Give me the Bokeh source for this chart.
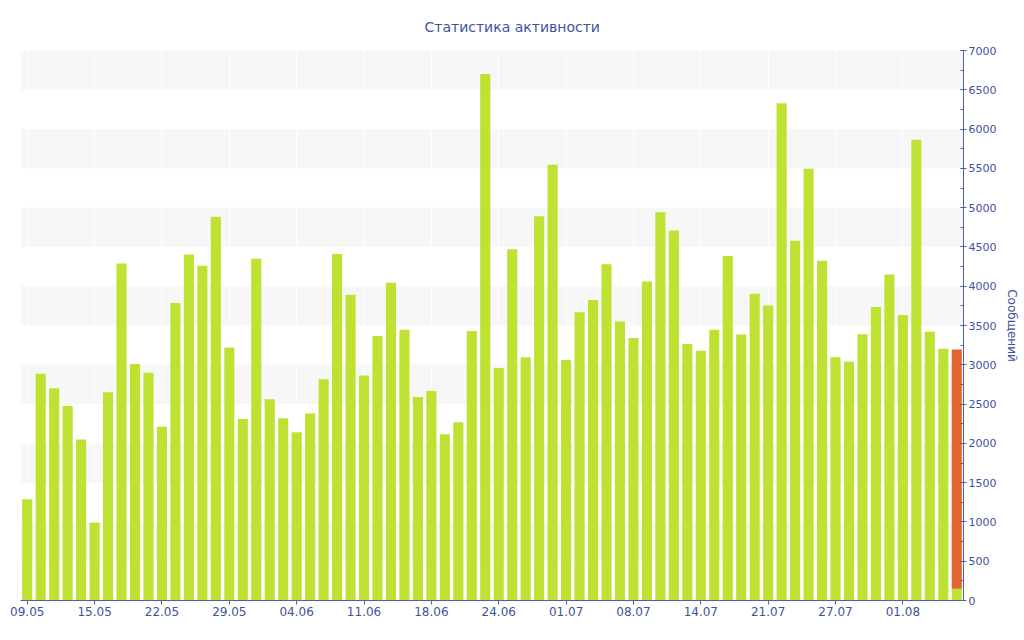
from bokeh.plotting import figure
from bokeh.models import Range1d, FixedTicker
from bokeh.embed import file_html
from bokeh.resources import INLINE

# --- data ---
tick_labels = ["09.05", "15.05", "22.05", "29.05", "04.06", "11.06", "18.06",
               "24.06", "01.07", "08.07", "14.07", "21.07", "27.07", "01.08"]
messages = [1290, 2885, 2700, 2475, 2050, 990, 2650, 4290, 3010, 2900,
            2210, 3785, 4405, 4260, 4885, 3220, 2310, 4350, 2560, 2320,
            2140, 2380, 2815, 4410, 3890, 2865, 3365, 4045, 3445, 2590,
            2665, 2115, 2270, 3430, 6700, 2960, 4470, 3095, 4890, 5545,
            3060, 3670, 3825, 4280, 3550, 3340, 4060, 4940, 4710, 3265,
            3180, 3445, 4385, 3385, 3905, 3755, 6330, 4580, 5495, 4325,
            3095, 3040, 3390, 3735, 4150, 3635, 5865, 3420, 3205, 150]
today_extra = [0] * 69 + [3045]
y_ticks = list(range(0, 7001, 500))
y_minor = list(range(0, 7001, 250))

n = len(messages)
idx = list(range(n))
label_step = 5

TEXT = "#3f51a0"
AXIS = "#4f60aa"
FONT = "DejaVu Sans"

p = figure(frame_width=943, frame_height=550,
           x_range=Range1d(-0.5, n - 0.5), y_range=Range1d(0, 7000),
           y_axis_location="right", output_backend="svg",
           toolbar_location=None, min_border_left=20, min_border_top=50,
           min_border_right=2, min_border_bottom=8,
           title="Статистика активности")
p.outline_line_color = None
p.background_fill_color = "white"
p.border_fill_color = "white"

p.title.align = "left"
p.title.text_font = FONT
p.title.text_font_size = "14px"
p.title.text_font_style = "normal"
p.title.text_color = TEXT
p.title.standoff = 31
p.title.offset = 404

src = dict(x=idx, base=messages, extra=today_extra)
p.vbar_stack(["base", "extra"], x="x", width=0.75, source=src,
             color=["#bde232", "#e2642f"], line_color=None)

# x axis
xa = p.xaxis[0]
xa.ticker = FixedTicker(ticks=[i * label_step for i in range(len(tick_labels))])
xa.major_label_overrides = {i * label_step: t for i, t in enumerate(tick_labels)}
xa.axis_line_color = AXIS
xa.major_tick_line_color = AXIS
xa.major_tick_in = 0
xa.major_tick_out = 4
xa.minor_tick_line_color = None
xa.major_label_text_font = FONT
xa.major_label_text_font_size = "12px"
xa.major_label_text_color = TEXT
xa.major_label_standoff = 2

# y axis (right)
ya = p.yaxis[0]
ya.ticker = FixedTicker(ticks=y_ticks, minor_ticks=y_minor)
ya.axis_line_color = AXIS
ya.major_tick_line_color = AXIS
ya.minor_tick_line_color = AXIS
ya.major_tick_in = 3
ya.major_tick_out = 3
ya.minor_tick_in = 3
ya.minor_tick_out = 0
ya.major_label_text_font = FONT
ya.major_label_text_font_size = "11px"
ya.major_label_text_color = TEXT
ya.major_label_standoff = 2
ya.axis_label = "Сообщений"
ya.axis_label_text_font = FONT
ya.axis_label_text_font_size = "12px"
ya.axis_label_text_font_style = "normal"
ya.axis_label_text_color = TEXT
ya.axis_label_standoff = 6

# grids
p.ygrid.grid_line_color = None
p.ygrid.band_fill_color = "#f7f7f7"
p.ygrid.band_fill_alpha = 1.0
p.ygrid.level = "image"
p.xgrid.grid_line_color = "#ffffff"
p.xgrid.grid_line_width = 1

open("out.html", "w").write(file_html(p, INLINE))
